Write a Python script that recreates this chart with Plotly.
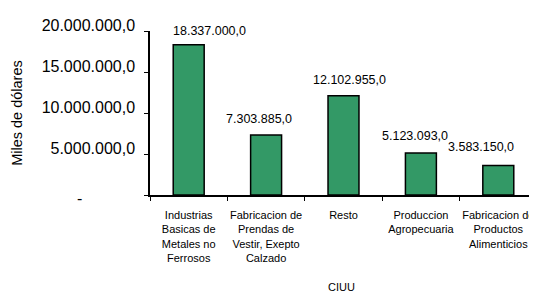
import plotly.graph_objects as go

categories = [
    "Industrias<br>Basicas de<br>Metales no<br>Ferrosos",
    "Fabricacion de<br>Prendas de<br>Vestir, Exepto<br>Calzado",
    "Resto",
    "Produccion<br>Agropecuaria",
    "Fabricacion de<br>Productos<br>Alimenticios",
]
values = [18337000.0, 7303885.0, 12102955.0, 5123093.0, 3583150.0]
value_labels = ["18.337.000,0", "7.303.885,0", "12.102.955,0", "5.123.093,0", "3.583.150,0"]
ytick_vals = [0, 5000000, 10000000, 15000000, 20000000]
ytick_text = ["-", "5.000.000,0", "10.000.000,0", "15.000.000,0", "20.000.000,0"]

# label offsets (style only)
label_xshift = [21, -7, 6, -6, -17]
label_yshift = [5, 7, 7, 8, 10]

FONT = "Arial, Liberation Sans, sans-serif"

fig = go.Figure()
fig.add_trace(go.Bar(
    x=categories, y=values,
    marker=dict(color="#339966", line=dict(color="black", width=1.5)),
    hoverinfo="skip",
))

for c, v, t, dx, dy in zip(categories, values, value_labels, label_xshift, label_yshift):
    fig.add_annotation(x=c, y=v, text=t, showarrow=False, xref="x", yref="y",
                       yanchor="bottom", xanchor="center", xshift=dx, yshift=dy,
                       font=dict(family=FONT, size=12.5, color="black"))

# zero tick label is drawn centred (accounting-style dash), the others right-aligned
fig.add_annotation(x=-0.181, y=ytick_vals[0], xref="paper", yref="y", text=ytick_text[0],
                   showarrow=False, xanchor="center", yanchor="middle", yshift=-3,
                   font=dict(family=FONT, size=16, color="black"))

fig.add_annotation(x=-0.344, y=0.5, xref="paper", yref="paper", text="Miles de dólares",
                   textangle=-90, showarrow=False, xanchor="center", yanchor="middle",
                   font=dict(family=FONT, size=14.5, color="black"))
fig.add_annotation(x=0.496, y=-0.56, xref="paper", yref="paper", text="CIUU",
                   showarrow=False, xanchor="center", yanchor="middle",
                   font=dict(family=FONT, size=11, color="black"))

# page body has an 8px margin; size the figure so the plot lands where the reference has it
fig.update_layout(
    width=529, height=287,
    margin=dict(l=142, r=0, t=23, b=100, autoexpand=False),
    paper_bgcolor="white", plot_bgcolor="white",
    bargap=0.6, showlegend=False,
    font=dict(family=FONT, color="black"),
)
fig.update_xaxes(
    showline=True, linecolor="black", linewidth=1.5,
    ticks="outside", ticklen=4, tickcolor="black", tickson="boundaries",
    tickfont=dict(family=FONT, size=11, color="black"),
    tickangle=0, ticklabelstandoff=9, automargin=False,
    showgrid=False, zeroline=False, range=[-0.5, 4.5],
)
fig.update_yaxes(
    range=[0, 20000000], tickvals=ytick_vals, ticktext=[""] + ytick_text[1:],
    showline=True, linecolor="black", linewidth=1.5,
    ticks="outside", ticklen=4, tickcolor="black",
    tickfont=dict(family=FONT, size=16, color="black"),
    ticklabelstandoff=6, ticklabelshift=-6, automargin=False,
    showgrid=False, zeroline=False,
)

fig.write_html("out.html")
